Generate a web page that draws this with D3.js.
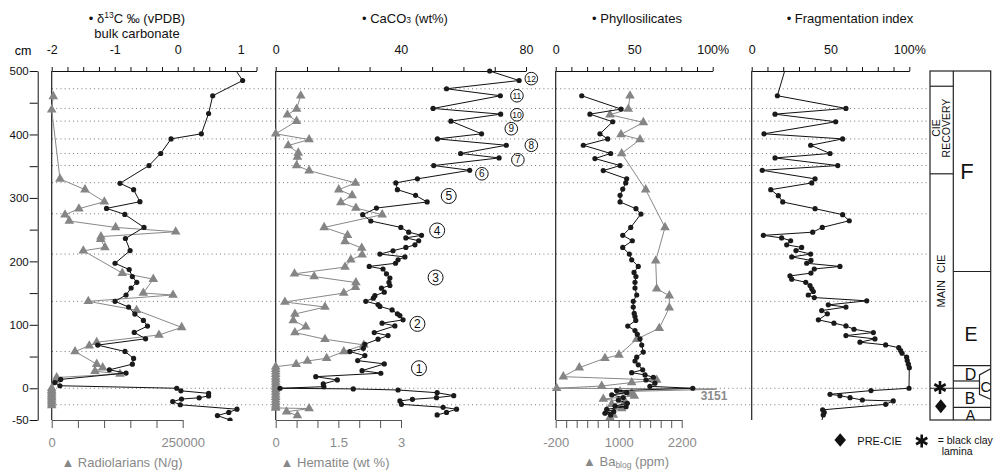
<!DOCTYPE html>
<html><head><meta charset="utf-8">
<script src="https://cdn.jsdelivr.net/npm/d3@7"></script>
<style>
body{margin:0;background:#fff}
svg{font-family:"Liberation Sans",Arial,sans-serif}
</style></head><body>
<svg id="c" width="995" height="471"></svg>
<script>
// ---------------- DATA ----------------
const gridDepths = [472, 441, 421, 393, 370, 351, 324, 275, 211.5, 137, 58, 0, -26];
const cmTickValues = [-50,0,50,100,150,200,250,300,350,400,450,500];
const cmTickLabels = [-50,0,100,200,300,400,500];

const d13cTicks = [-2,-1.75,-1.5,-1.25,-1,-0.75,-0.5,-0.25,0,0.25,0.5,0.75,1,1.25];
const d13cLabels = [-2,-1,0,1];
const radTicks = [0,50000,100000,150000,200000,250000];
const radLabels = [0,250000];
const caTicks = [0,10,20,30,40,50,60,70,80];
const caLabels = [0,40,80];
const hemTicks = [0,0.5,1,1.5,2,2.5,3];
const hemLabels = [0,1.5,3];
const pctTicks = [0,10,20,30,40,50,60,70,80,90,100];
const pctLabels = [0,50,100];
const baTicks = [-200,0,200,400,600,800,1000,1200,1400,1600,1800,2000,2200];
const baLabels = [-200,1000,2200];

const d13cDepth = [510,485,461,433,401,393,370,351,323,313,294,283.5,274,253.5,236,217,197,187,176,167,158,147,137,128,117,107,98,88,78,68,58,47,38,29,24,14,9,4,0,-4,-8,-12,-15,-17,-21,-26,-33,-38,-43,-50];
const d13cValue = [0.86,1.03,0.555,0.49,0.375,-0.106,-0.27,-0.456,-0.916,-0.70,-0.60,-1.13,-0.84,-0.535,-0.83,-0.756,-0.995,-0.77,-0.72,-0.65,-0.74,-0.82,-0.995,-0.78,-0.68,-0.545,-0.48,-0.69,-0.51,-1.27,-0.837,-0.70,-0.72,-1.085,-0.82,-1.857,-1.95,-1.87,-0.016,0.05,0.49,0.49,0.34,0.06,-0.08,0.04,0.94,0.81,0.63,0.83];

const radDepth = [460,439,330,313,294,283,273.5,263.6,253.5,246.7,239,235,222,216.7,181.5,172,150,147,137,123,96,84,72.6,67,58,38,32.5,27,22.5,17,13,0,-3,-6,-9,-12,-15,-18,-21,-24,-27];
const radValue = [3000,0,15800,63500,100400,52000,25400,33600,122000,236600,94000,93500,101700,60300,134700,193900,174800,231500,69800,162000,248000,204700,85900,71700,44500,85900,97300,82600,130300,9500,8200,0,0,0,0,0,0,0,0,0,0];

const caDepth = [500,485,472,461,441,432,421,401,393,383,370,363,351,343.5,330,323.6,313,304,293.6,284,273.6,263.6,253.5,246,241,237,232.5,226,222,216.7,211.5,207,202.5,197,192,188,180.4,173.6,167,162,157.8,151.5,146,142,137,132,129,123.5,117.3,114.6,107.8,102.6,98.3,87.8,83,77.3,69.4,63,57.8,51.5,43.6,38.4,27.8,23.7,18.3,13.1,6.8,2.5,0,-1,-2.7,-7,-11.6,-14.8,-17.4,-20,-25.3,-30,-33,-38,-42];
const caValue = [68.4,77.8,54.6,71.8,50.3,71.9,56,65.8,51.7,73.7,59.1,71.4,50.5,62,45.3,38.4,38.9,44.7,48.4,32.2,27.8,30.4,40,42.5,46.6,41.6,45.7,44.5,41.6,37.5,33.3,41.3,39.1,38.3,29.9,34.3,35.4,36.5,36.2,36.5,33.8,34.7,31.7,31.2,28.8,32.7,33.3,37.2,38.9,39.7,40.7,34,38.1,31.5,35.9,32.7,28.5,28,23.7,28.5,26.2,34.7,27.6,33.6,12.8,19.7,15.2,15.4,1.4,24.8,39.1,51.6,56.9,51.4,43.7,39.7,40.2,53.5,57.8,54.6,51.6];

const hemDepth = [461,440,431,421,401,392,382.5,371,364.6,351,343,323.6,313,304,293,284,273.6,253.5,241,231.5,221,210.4,202.5,191,180.4,176,166.6,159.4,150,136,128,117,106.7,97,87.8,77.3,68.3,57.8,47.3,43,37.9,34,30,26,22,18,14,10,6,2,-2,-6,-10,-14,-18,-22,-26,-29,-31,-32,-37,-43];
const hemValue = [0.6,0.5,0.28,0.5,0,0.8,0.3,0.54,0.52,0.5,0.8,1.91,1.51,1.83,1.56,1.92,2.55,1.16,1.72,1.66,2.06,2.07,1.80,1.66,0.45,0.92,1.92,1.91,1.63,0.22,1.18,0.46,0.42,0.72,0.46,1.18,2.11,1.63,1.22,0.76,0.49,0,0,0,0,0,0,0,0,0,0,0,0,0,0,0,0,0,0,0.8,0.26,0.52];

const phyDepth = [461,440,432,420,401,393,383,370,362,351,343,330,323.6,314,304,293.6,283,274.6,253.5,241,232.5,222,211.5,202.5,192,182.5,176,167,158,147,137,128,118,113,107,98,91,85,78,68,57,49,43,37,29,24.6,21,17.4,13,8,3,0,-3.7,-6.9,-10.5,-14.7,-18.5,-23.8,-27.9,-29,-33.1,-36.8,-39.4,-42];
const phyValue = [16.6,41.6,21.8,36.3,28.2,33.1,17.6,35,25,41,30.3,45.2,44.6,42.7,41,41,51.1,54.3,47.8,42.7,48.8,42.7,46.9,48.4,52.6,49.9,51.1,50.5,50.5,51.6,49.4,49.4,50,50.5,51,45.9,50.5,52,53.7,54.8,55.8,51.6,50.5,52.6,55.4,48.4,56.9,62.2,57.5,63.2,60,87.3,38.8,45.2,35.7,43,39.9,45.6,37.8,44.8,32.5,37,31.4,35];

const baDepth = [461,440,431,419,400,392,370,313,253.5,201,156.7,146,127,94.7,77.3,52.6,47.3,32.5,18.3,13,9,3.6,0,-1,-5.3,-8,-12,-17,-21,-25,-32,-36,-42,-46];
const baValue = [1215,1183,834,1469,1044,1406,1057,1514,1882,1705,1724,1964,1964,1773,1343,1006,739,250,-55,1724,1248,676,-181,3151,1025,1248,1297,707,1120,867,1057,771,897,834];
const baOutlier = {depth:-1, value:3151};

const frDepth = [510,461,441,432,420,401,393,383,370,363,351,343.5,330,323.6,313,303.5,293.6,283,273.6,264,253.5,246,241,237,232.5,226,222,217,211.5,207,201.5,197,192,188,181.5,177,172,167,162,156.7,152.5,147,143,137.8,131.5,128,122.5,117.3,107.8,102.6,98.3,93,87.8,83,77.8,72.6,68.3,64,59.4,55.2,49,43.6,37.9,32.5,0,-3.7,-9.5,-11.6,-14.8,-18.5,-20,-25.3,-34,-38,-42,-56];
const frValue = [22.1,16.3,59.8,14.8,53.3,7.8,57.7,37.4,49.7,14.8,54.6,6.7,40.2,38.1,12.1,16.9,19.7,40.2,57.7,61.9,44.8,38.7,7.4,19,24.7,22.2,31.7,28.1,37.4,25.4,37.6,34.9,56,39.7,37.6,24.3,25.4,34.3,37,38.1,39.1,35.9,39.7,73,48.6,59.8,44.4,48,42.3,52.2,59.8,64.9,77.2,59.8,78.2,68.7,85,93.3,94.5,95.4,98.3,98.7,99.4,100,99.8,75.7,49.7,56,62.4,70.2,89.8,85,45,46,45.4,44];

// circled cycle numbers (CaCO3 value, depth)
const cycleLabels = ["1","2","3","4","5","6","7","8","9","10","11","12"];
const cycleDepth = [31.6,101.5,174.6,248.7,303,338,360,383,409,431,461,488];
const cycleValue = [45.8,45.3,51.1,51.6,55.3,65.9,77.4,81.7,75.3,77.1,77.1,81.7];

// stratigraphic column boundaries (cm)
const phaseBounds = [476, 338];          // left column: CIE recovery / main CIE
const unitBounds = [184, 35.6, 11.5, 0, -30]; // right column: F|E, E|D, D|C, C|B, B|A
const unitNames = ["F","E","D","C","B","A"];

// ---------------- CHART ----------------
const svg = d3.select("#c");
const TOP = 71, BOT = 420;
const y = d3.scaleLinear().domain([-50,500]).range([BOT,TOP]);
const xD13 = d3.scaleLinear().domain([-2,1.25]).range([51.7,256.5]);
const xRad = d3.scaleLinear().domain([0,250000]).range([51.7,182.7]);
const xCa  = d3.scaleLinear().domain([0,80]).range([275.7,526]);
const xHem = d3.scaleLinear().domain([0,3]).range([275.7,401]);
const xPhy = d3.scaleLinear().domain([0,100]).range([555.7,712.7]);
const xBa  = d3.scaleLinear().domain([-200,2200]).range([555.7,681.7]);
const xFr  = d3.scaleLinear().domain([0,100]).range([751.7,909.3]);

const defs = svg.append("defs");
defs.append("clipPath").attr("id","clipL").append("rect").attr("x",0).attr("y",TOP).attr("width",930).attr("height",BOT-TOP);
defs.append("clipPath").attr("id","clipM").append("rect").attr("x",0).attr("y",TOP-3).attr("width",930).attr("height",BOT-TOP+4);
defs.append("clipPath").attr("id","clipBa").append("rect").attr("x",540).attr("y",TOP).attr("width",176.5).attr("height",BOT-TOP);
defs.append("clipPath").attr("id","clipBaM").append("rect").attr("x",540).attr("y",TOP-3).attr("width",176.5).attr("height",BOT-TOP+4);

// dotted grid lines
svg.append("g").selectAll("line").data(gridDepths).join("line")
  .attr("x1",52).attr("x2",930).attr("y1",d=>y(d)).attr("y2",d=>y(d))
  .attr("stroke","#777").attr("stroke-width",1).attr("stroke-dasharray","1,3.2");

// depth axis
const cmAx = svg.append("g").attr("transform","translate(37.7,0)")
  .call(d3.axisLeft(y).tickValues(cmTickValues).tickSize(8).tickSizeOuter(0).tickPadding(1)
    .tickFormat(d=>cmTickLabels.includes(d)?String(d):""));
cmAx.selectAll("text").attr("font-size",11.5).attr("font-family","Liberation Sans, Arial").attr("fill","#111");
cmAx.selectAll("line,path").attr("stroke","#111");
svg.append("text").attr("x",23).attr("y",54.5).attr("text-anchor","middle").attr("font-size",12.5).text("cm");

// panel vertical lines
[51.7,275.7,555.7,751.7].forEach(x=>{
  svg.append("line").attr("x1",x).attr("x2",x).attr("y1",TOP).attr("y2",BOT).attr("stroke","#222").attr("stroke-width",1.2);
});

function topAxis(scale, ticks, labels, fmt){
  const g = svg.append("g").attr("transform",`translate(0,${TOP})`)
    .call(d3.axisTop(scale).tickValues(ticks).tickSize(4).tickSizeOuter(0).tickPadding(13)
      .tickFormat(d=>labels.includes(d)?fmt(d):""));
  g.selectAll("text").attr("font-size",12.5).attr("font-family","Liberation Sans, Arial").attr("fill","#111");
  g.selectAll("line,path").attr("stroke","#111");
}
function bottomAxis(scale, ticks, labels){
  const g = svg.append("g").attr("transform",`translate(0,${BOT})`)
    .call(d3.axisBottom(scale).tickValues(ticks).tickSize(8).tickSizeOuter(0).tickPadding(10)
      .tickFormat(d=>labels.includes(d)?String(d):""));
  g.selectAll("text").attr("font-size",13).attr("font-family","Liberation Sans, Arial").attr("fill","#8a8a8a");
  g.selectAll("line,path").attr("stroke","#555");
}
topAxis(xD13, d13cTicks, d13cLabels, d=>String(d));
topAxis(xCa, caTicks, caLabels, d=>String(d));
topAxis(xPhy, pctTicks, pctLabels, d=>d===100?"100%":String(d));
topAxis(xFr, pctTicks, pctLabels, d=>d===100?"100%":String(d));
bottomAxis(xRad, radTicks, radLabels);
bottomAxis(xHem, hemTicks, hemLabels);
bottomAxis(xBa, baTicks, baLabels);

// series
function series(depths, values, xs, kind, clipLine, clipMark){
  const pts = depths.map((d,i)=>[xs(values[i]), y(d)]);
  const col = kind==="tri" ? "#888" : "#111";
  svg.append("path").attr("clip-path",`url(#${clipLine})`)
    .attr("d", d3.line()(pts)).attr("fill","none").attr("stroke",col).attr("stroke-width",1);
  const gm = svg.append("g").attr("clip-path",`url(#${clipMark})`);
  if(kind==="tri"){
    gm.selectAll("path").data(pts).join("path")
      .attr("d", d3.symbol().type(d3.symbolTriangle).size(40)())
      .attr("transform",p=>`translate(${p[0]},${p[1]})`).attr("fill","#858585");
  } else {
    gm.selectAll("circle").data(pts).join("circle")
      .attr("cx",p=>p[0]).attr("cy",p=>p[1]).attr("r",2.6).attr("fill","#1a1a1a");
  }
}
series(radDepth, radValue, xRad, "tri", "clipL", "clipM");
series(d13cDepth, d13cValue, xD13, "dot", "clipL", "clipM");
series(hemDepth, hemValue, xHem, "tri", "clipL", "clipM");
series(caDepth, caValue, xCa, "dot", "clipL", "clipM");
series(baDepth, baValue, xBa, "tri", "clipBa", "clipBaM");
series(phyDepth, phyValue, xPhy, "dot", "clipL", "clipM");
series(frDepth, frValue, xFr, "dot", "clipL", "clipM");

svg.append("text").attr("x",714).attr("y",y(baOutlier.depth)+11).attr("text-anchor","middle")
  .attr("font-size",12).attr("font-weight","bold").attr("fill","#8a8a8a").text(String(baOutlier.value));

// circled numbers
cycleLabels.forEach((t,i)=>{
  const cx = xCa(cycleValue[i]), cy = y(cycleDepth[i]);
  const big = i<5;
  svg.append("circle").attr("cx",cx).attr("cy",cy).attr("r",big?7.5:6.3).attr("fill","#fff").attr("stroke","#111").attr("stroke-width",1);
  svg.append("text").attr("x",cx).attr("y",cy+(big?4.3:3.3)).attr("text-anchor","middle")
    .attr("font-size",big?12:(t.length>1?8.5:10)).attr("fill","#111").text(t);
});

// titles
function title(x, yy, parts, size, fill){
  const t = svg.append("text").attr("x",x).attr("y",yy).attr("text-anchor","middle").attr("font-size",size).attr("fill",fill);
  parts.forEach(p=>{
    const s = t.append("tspan").text(p.t);
    if(p.fs) s.attr("font-size",p.fs);
    if(p.dy) s.attr("dy",p.dy);
  });
}
title(137,22.5,[{t:"• δ"},{t:"13",fs:8.5,dy:-5},{t:"C ‰ (vPDB)",dy:5}],13,"#111");
title(137,37.5,[{t:"bulk carbonate"}],13,"#111");
title(405,22.5,[{t:"• CaCO"},{t:"3",fs:8.5},{t:" (wt%)"}],13,"#111");
title(637,22.5,[{t:"• Phyllosilicates"}],13,"#111");
title(850,22.5,[{t:"• Fragmentation index"}],13,"#111");
title(122,466.5,[{t:"▲ Radiolarians (N/g)"}],13,"#888");
title(335,466.5,[{t:"▲ Hematite (wt %)"}],13,"#888");
title(626,465.5,[{t:"▲ Ba"},{t:"blog",fs:8.5,dy:2},{t:" (ppm)",dy:-2}],13,"#888");

// stratigraphic column
const cL = 930, cM = 953.3, cR = 990.7;
const sg = svg.append("g").attr("stroke","#222").attr("stroke-width",1.2).attr("fill","none");
sg.append("rect").attr("x",cL).attr("y",TOP).attr("width",cR-cL).attr("height",BOT-TOP);
sg.append("line").attr("x1",cM).attr("x2",cM).attr("y1",TOP).attr("y2",BOT);
phaseBounds.forEach(d=>sg.append("line").attr("x1",cL).attr("x2",cM).attr("y1",y(d)).attr("y2",y(d)));
sg.append("line").attr("x1",cM).attr("x2",cR).attr("y1",y(unitBounds[0])).attr("y2",y(unitBounds[0]));
sg.append("line").attr("x1",cM).attr("x2",cR).attr("y1",y(unitBounds[1])).attr("y2",y(unitBounds[1]));
sg.append("line").attr("x1",cM).attr("x2",979.5).attr("y1",y(unitBounds[2])).attr("y2",y(unitBounds[2]));
sg.append("line").attr("x1",cL).attr("x2",979.5).attr("y1",y(unitBounds[3])).attr("y2",y(unitBounds[3]));
sg.append("line").attr("x1",cM).attr("x2",cR).attr("y1",y(unitBounds[4])).attr("y2",y(unitBounds[4]));
sg.append("path").attr("d",`M${cR},${y(unitBounds[1])+3}L979.5,${y(unitBounds[2])-6}L979.5,${y(unitBounds[3])+6}L${cR},${y(unitBounds[4])-8}`);

const ut = svg.append("g").attr("fill","#111").attr("text-anchor","middle");
ut.append("text").attr("x",967).attr("y",178.5).attr("font-size",22).text(unitNames[0]);
ut.append("text").attr("x",971).attr("y",340.7).attr("font-size",19.5).text(unitNames[1]);
ut.append("text").attr("x",970.5).attr("y",380).attr("font-size",16).text(unitNames[2]);
ut.append("text").attr("x",985.7).attr("y",391.7).attr("font-size",14.5).text(unitNames[3]);
ut.append("text").attr("x",970).attr("y",403.5).attr("font-size",16).text(unitNames[4]);
ut.append("text").attr("x",970.5).attr("y",420).attr("font-size",14).text(unitNames[5]);

ut.append("text").attr("transform","translate(940,128) rotate(-90)").attr("font-size",10.5).text("CIE");
ut.append("text").attr("transform","translate(950,128) rotate(-90)").attr("font-size",10.5).text("RECOVERY");
ut.append("text").attr("transform","translate(944.5,281) rotate(-90)").attr("font-size",11).attr("word-spacing",4).text("MAIN CIE");

function asterisk(cx, cy, r){
  const a = [90, 30, -30].map(t=>t*Math.PI/180);
  const p = a.map(t=>`M${cx-r*Math.cos(t)},${cy-r*Math.sin(t)}L${cx+r*Math.cos(t)},${cy+r*Math.sin(t)}`).join("");
  svg.append("path").attr("d",p).attr("stroke","#111").attr("stroke-width",2.6).attr("fill","none");
}
function diamond(cx, cy, w, h){
  svg.append("path").attr("d",`M${cx},${cy-h/2}L${cx+w/2},${cy}L${cx},${cy+h/2}L${cx-w/2},${cy}Z`).attr("fill","#111");
}
asterisk(940, 387.5, 6.5);
diamond(940.8, 406.3, 11.5, 14);
diamond(840.2, 440, 11.5, 13.5);
asterisk(921.7, 441, 6.5);
svg.append("text").attr("x",857.3).attr("y",445).attr("font-size",11).attr("fill","#111").text("PRE-CIE");
svg.append("text").attr("x",937.7).attr("y",443.5).attr("font-size",10.5).attr("fill","#111").text("= black clay");
svg.append("text").attr("x",941.7).attr("y",455).attr("font-size",10.5).attr("fill","#111").text("lamina");
</script></body></html>
